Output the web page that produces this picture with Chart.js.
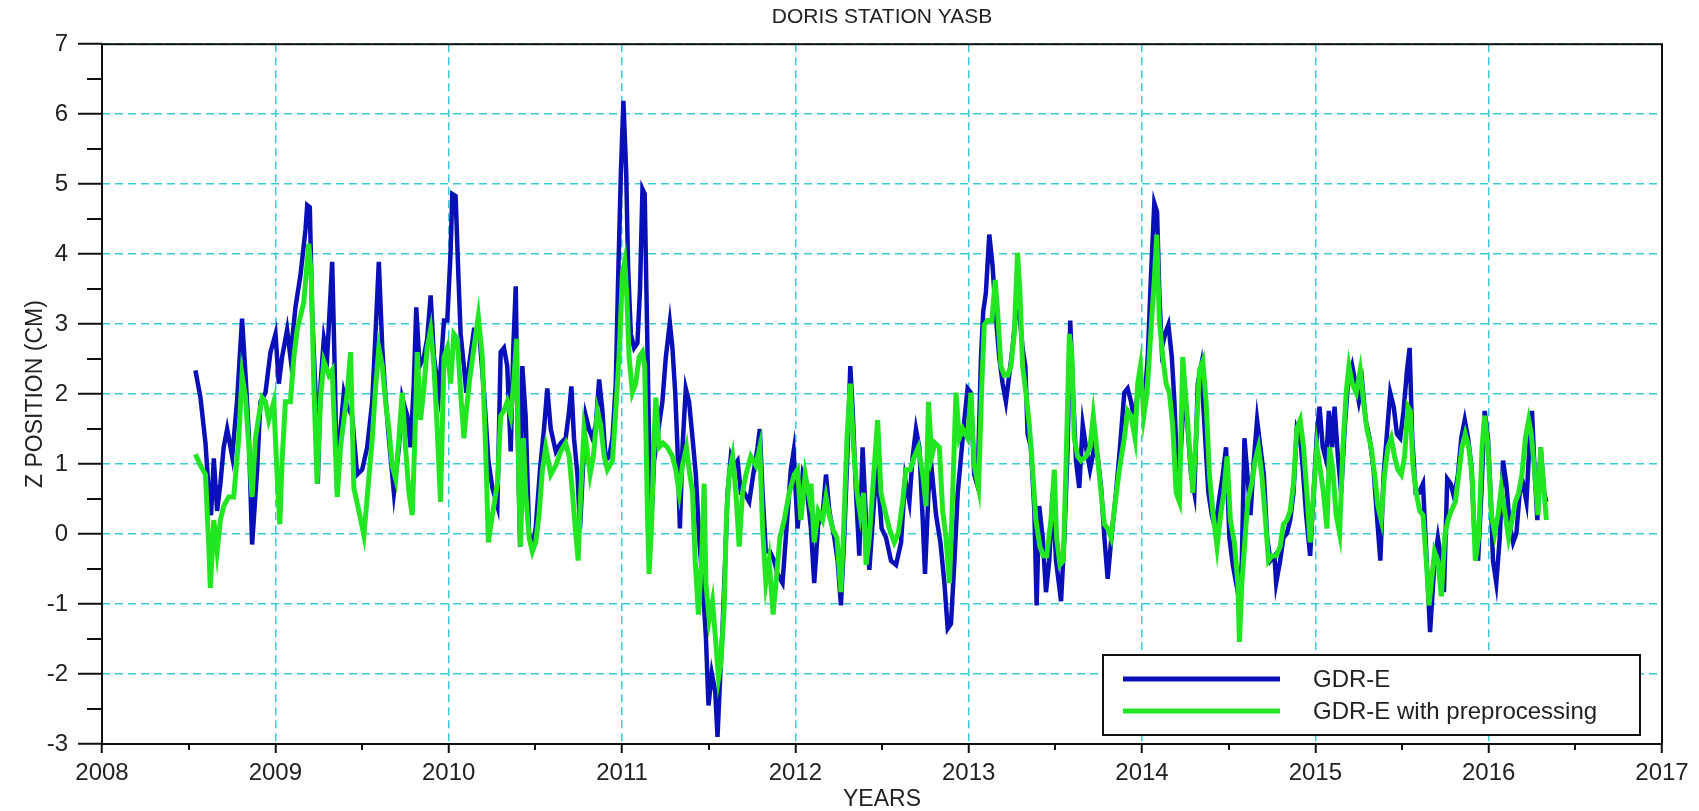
<!DOCTYPE html>
<html>
<head>
<meta charset="utf-8">
<script src="https://cdn.jsdelivr.net/npm/chart.js@4.4.0/dist/chart.umd.min.js"></script>
<style>
html,body{margin:0;padding:0;background:#fff;}
#wrap{position:relative;width:1699px;height:811px;}
</style>
</head>
<body>
<div id="wrap"><canvas id="c"></canvas></div>
<script>
const chartTitle = 'DORIS STATION YASB';
const xAxisTitle = 'YEARS';
const yAxisTitle = 'Z POSITION (CM)';
const seriesNames = ['GDR-E', 'GDR-E with preprocessing'];
const xTicks = [2008, 2009, 2010, 2011, 2012, 2013, 2014, 2015, 2016, 2017];
const yTicks = [-3, -2, -1, 0, 1, 2, 3, 4, 5, 6, 7];

const gdrYears = [
2008.539,2008.568,2008.597,2008.616,2008.629,2008.645,2008.664,2008.683,2008.702,2008.722,2008.751,2008.779,2008.808,2008.828,2008.847,2008.866,2008.895,2008.914,2008.943,2008.972,
2009.001,2009.020,2009.039,2009.068,2009.087,2009.116,2009.145,2009.174,2009.184,2009.199,2009.212,2009.232,2009.245,2009.261,2009.280,2009.299,2009.328,2009.341,2009.357,2009.376,2009.395,
2009.415,2009.443,2009.472,2009.501,2009.530,2009.559,2009.578,2009.597,2009.617,2009.636,2009.655,2009.684,2009.713,2009.732,2009.761,2009.780,2009.799,2009.813,2009.832,2009.857,2009.876,2009.896,2009.915,2009.944,2009.973,2009.992,
2010.011,2010.021,2010.040,2010.056,2010.069,2010.088,2010.102,2010.121,2010.146,2010.175,2010.204,2010.229,2010.252,2010.281,
2010.300,2010.319,2010.338,2010.358,2010.373,2010.387,2010.400,2010.412,2010.425,2010.444,2010.464,2010.483,2010.502,2010.527,2010.550,2010.569,2010.589,2010.618,2010.646,2010.675,2010.695,2010.708,2010.723,2010.743,2010.758,2010.777,2010.791,2010.810,2010.829,2010.849,2010.868,2010.887,2010.906,2010.926,2010.945,2010.964,2010.977,2010.993,
2011.008,2011.024,2011.035,2011.051,2011.070,2011.089,2011.104,2011.118,2011.131,2011.143,2011.156,2011.170,2011.185,
2011.214,2011.233,2011.253,2011.276,2011.291,2011.307,2011.320,2011.334,2011.349,2011.368,2011.387,2011.407,2011.426,2011.445,2011.465,2011.484,2011.499,2011.518,2011.538,2011.551,2011.565,2011.580,2011.595,2011.609,2011.628,2011.647,2011.667,2011.686,2011.705,2011.734,2011.757,2011.782,2011.795,2011.811,2011.830,2011.853,2011.878,2011.897,2011.926,2011.949,2011.974,2011.990,
2012.013,2012.042,2012.065,2012.090,2012.109,2012.132,2012.157,2012.177,2012.196,2012.225,2012.244,2012.263,2012.282,2012.302,2012.317,2012.331,2012.350,2012.369,2012.388,2012.408,2012.427,2012.456,2012.475,2012.498,2012.523,2012.552,2012.581,2012.610,2012.633,2012.658,2012.677,2012.696,2012.715,2012.735,2012.748,2012.768,2012.787,2012.812,2012.837,2012.860,2012.879,2012.898,2012.918,2012.937,2012.956,2012.975,2012.994,
2013.013,2013.032,2013.051,2013.071,2013.084,2013.099,2013.119,2013.138,2013.157,2013.176,2013.196,2013.215,2013.234,2013.253,2013.273,2013.292,2013.311,2013.327,2013.340,2013.359,2013.379,2013.392,2013.407,2013.427,2013.446,2013.465,2013.484,2013.504,2013.533,2013.552,2013.571,2013.586,2013.600,2013.619,2013.638,2013.658,2013.677,2013.700,2013.725,2013.744,2013.764,2013.783,2013.802,2013.821,2013.850,2013.873,2013.898,2013.917,2013.937,2013.956,2013.975,2013.994,
2014.014,2014.033,2014.052,2014.071,2014.087,2014.100,2014.114,2014.133,2014.152,2014.172,2014.187,2014.206,2014.225,2014.245,2014.264,2014.283,2014.302,2014.322,2014.341,2014.360,2014.383,2014.403,2014.422,2014.447,2014.466,2014.485,2014.504,2014.524,2014.543,2014.562,2014.576,2014.591,2014.606,2014.626,2014.645,2014.664,2014.683,2014.703,2014.722,2014.741,2014.764,2014.774,2014.797,2014.816,2014.836,2014.855,2014.874,2014.893,2014.913,2014.928,2014.947,2014.970,2014.990,
2015.009,2015.024,2015.043,2015.063,2015.078,2015.097,2015.111,2015.130,2015.149,2015.169,2015.188,2015.213,2015.232,2015.251,2015.271,2015.290,2015.313,2015.336,2015.355,2015.375,2015.394,2015.413,2015.432,2015.452,2015.471,2015.490,2015.509,2015.529,2015.544,2015.559,2015.579,2015.598,2015.621,2015.636,2015.662,2015.688,2015.707,2015.727,2015.742,2015.761,2015.781,2015.800,2015.823,2015.842,2015.862,2015.881,2015.900,2015.919,2015.939,2015.958,2015.977,2015.996,
2016.012,2016.025,2016.044,2016.064,2016.083,2016.102,2016.121,2016.141,2016.160,2016.179,2016.198,2016.218,2016.237,2016.250,2016.266,2016.281,2016.300,2016.320,2016.333
];
const gdrValues = [
2.34,1.95,1.30,0.59,0.27,1.08,0.33,0.72,1.24,1.50,1.11,1.89,3.08,2.27,1.43,-0.15,0.92,1.89,2.02,2.60,
2.86,2.15,2.53,2.92,2.53,3.24,3.70,4.35,4.70,4.67,3.18,2.02,0.72,2.15,2.79,2.53,3.89,2.53,0.59,1.50,2.02,
1.82,1.69,0.85,0.92,1.24,1.89,2.86,3.89,2.66,1.95,1.37,0.59,1.24,1.95,1.69,1.24,2.15,3.24,2.40,2.53,2.79,3.41,2.53,2.02,3.05,3.05,
4.02,4.86,4.83,3.70,2.86,2.40,2.02,2.47,2.92,2.92,2.02,1.05,0.66,0.40,
2.60,2.66,2.40,1.18,2.66,3.54,1.24,-0.18,2.40,1.69,0.01,-0.18,0.08,0.92,1.50,2.08,1.50,1.18,1.30,1.37,1.76,2.11,1.37,0.85,0.08,1.05,1.69,1.50,1.37,1.56,2.21,1.76,1.05,1.11,1.37,2.15,3.57,5.12,
6.19,5.19,3.83,2.86,2.66,2.73,3.50,4.93,4.86,3.18,1.37,0.20,1.05,
1.56,1.89,2.53,3.02,2.66,2.02,1.24,0.08,1.24,2.08,1.89,1.37,0.85,-0.05,-0.70,-1.47,-2.45,-1.99,-2.25,-2.90,-2.12,-1.35,-0.38,0.59,1.11,0.98,1.05,0.59,0.59,0.46,0.85,1.24,1.50,0.59,-0.25,-0.25,-0.38,-0.57,-0.70,0.08,0.92,1.18,
0.08,0.85,0.66,0.08,-0.70,0.14,0.27,0.85,0.33,-0.05,-0.38,-1.02,-0.05,1.24,2.40,1.76,0.59,-0.31,1.24,0.20,-0.51,0.53,0.85,0.08,-0.05,-0.38,-0.44,-0.12,0.79,0.46,1.11,1.50,1.24,0.20,-0.57,0.59,0.92,0.27,-0.12,-0.70,-1.35,-1.28,-0.38,0.59,1.11,1.63,2.08,
2.02,0.85,0.69,2.53,3.18,3.44,4.28,3.83,3.11,2.53,2.15,1.89,2.27,2.66,3.18,3.18,2.66,2.40,1.43,1.24,0.33,-1.02,0.40,-0.05,-0.83,-0.38,0.59,-0.38,-0.96,-0.05,1.24,3.05,2.15,1.05,0.66,1.56,1.24,0.92,1.24,1.11,0.66,-0.05,-0.64,-0.12,0.59,1.24,2.02,2.08,1.89,1.63,2.02,2.21,
1.89,2.53,3.70,4.73,4.60,3.44,2.66,2.86,2.99,2.53,1.89,0.72,1.24,2.15,1.50,0.85,0.59,2.15,2.40,1.56,0.59,0.27,0.08,0.53,0.85,1.24,-0.05,-0.44,-0.70,-0.96,-0.38,1.37,0.92,0.27,1.05,1.63,1.24,0.85,-0.05,-0.38,-0.31,-0.70,-0.38,-0.05,0.01,0.20,0.59,1.50,1.37,0.92,0.27,-0.31,0.59,
1.43,1.82,1.24,1.05,1.76,1.24,1.82,1.11,0.59,1.50,2.15,2.40,2.15,1.89,2.15,1.63,1.37,0.92,0.27,-0.38,0.85,1.43,2.02,1.82,1.43,1.37,1.76,2.34,2.66,1.37,0.59,0.59,0.72,-0.05,-1.40,-0.38,-0.05,-0.38,-0.83,0.79,0.72,0.53,0.85,1.37,1.63,1.37,0.98,-0.05,-0.38,0.59,1.76,1.37,
0.53,-0.38,-0.70,-0.05,1.05,0.72,0.14,-0.12,0.01,0.59,0.72,0.46,1.37,1.76,0.85,0.20,1.24,0.59,0.46
];

const preYears = [
2008.539,2008.568,2008.597,2008.616,2008.625,2008.645,2008.664,2008.683,2008.702,2008.731,2008.760,2008.789,2008.808,2008.828,2008.847,2008.866,2008.885,2008.905,2008.924,2008.943,2008.962,2008.991,
2009.010,2009.026,2009.039,2009.058,2009.087,2009.107,2009.126,2009.164,2009.193,2009.207,2009.222,2009.241,2009.261,2009.280,2009.309,2009.328,2009.341,2009.357,2009.376,
2009.415,2009.434,2009.453,2009.482,2009.511,2009.530,2009.559,2009.578,2009.597,2009.617,2009.636,2009.655,2009.674,2009.694,2009.713,2009.732,2009.751,2009.771,2009.790,2009.805,2009.819,2009.838,2009.857,2009.876,2009.896,2009.915,2009.934,2009.953,2009.973,2009.992,
2010.011,2010.030,2010.050,2010.069,2010.088,2010.102,2010.121,2010.146,2010.171,2010.194,2010.213,2010.229,2010.252,2010.281,
2010.300,2010.319,2010.338,2010.358,2010.377,2010.392,2010.406,2010.415,2010.431,2010.444,2010.464,2010.483,2010.502,2010.521,2010.541,2010.560,2010.589,2010.618,2010.646,2010.675,2010.695,2010.714,2010.733,2010.747,2010.762,2010.781,2010.797,2010.816,2010.835,2010.858,2010.877,2010.897,2010.916,2010.945,2010.964,2010.983,
2011.002,2011.016,2011.027,2011.041,2011.060,2011.079,2011.099,2011.118,2011.131,2011.147,2011.156,2011.170,2011.185,
2011.195,2011.214,2011.237,2011.262,2011.291,2011.310,2011.330,2011.349,2011.372,2011.387,2011.407,2011.422,2011.441,2011.461,2011.474,2011.484,2011.503,2011.522,2011.541,2011.557,2011.570,2011.590,2011.603,2011.618,2011.638,2011.657,2011.676,2011.695,2011.715,2011.743,2011.772,2011.795,2011.811,2011.830,2011.849,2011.872,2011.888,2011.911,2011.936,2011.965,2011.994,
2012.013,2012.032,2012.057,2012.080,2012.090,2012.109,2012.132,2012.157,2012.177,2012.196,2012.215,2012.240,2012.263,2012.279,2012.298,2012.317,2012.336,2012.356,2012.375,2012.394,2012.408,2012.427,2012.456,2012.475,2012.494,2012.517,2012.542,2012.571,2012.594,2012.619,2012.638,2012.663,2012.687,2012.710,2012.735,2012.754,2012.768,2012.787,2012.806,2012.831,2012.850,2012.869,2012.889,2012.908,2012.927,2012.946,2012.966,2012.994,
2013.013,2013.032,2013.057,2013.076,2013.090,2013.109,2013.134,2013.153,2013.167,2013.186,2013.205,2013.225,2013.244,2013.263,2013.282,2013.296,2013.311,2013.330,2013.350,2013.369,2013.388,2013.411,2013.431,2013.450,2013.475,2013.494,2013.507,2013.527,2013.546,2013.561,2013.581,2013.596,2013.609,2013.629,2013.648,2013.677,2013.700,2013.719,2013.738,2013.764,2013.783,2013.802,2013.821,2013.846,2013.869,2013.898,2013.917,2013.937,2013.960,2013.975,2013.991,
2014.010,2014.029,2014.052,2014.071,2014.085,2014.100,2014.120,2014.139,2014.158,2014.177,2014.197,2014.216,2014.235,2014.254,2014.274,2014.293,2014.312,2014.331,2014.351,2014.370,2014.389,2014.408,2014.433,2014.453,2014.472,2014.491,2014.510,2014.533,2014.553,2014.562,2014.576,2014.595,2014.610,2014.633,2014.653,2014.672,2014.691,2014.710,2014.730,2014.749,
2014.774,2014.797,2014.816,2014.836,2014.855,2014.874,2014.893,2014.913,2014.932,2014.951,2014.970,2014.990,2015.009,2015.028,2015.047,2015.067,2015.082,2015.101,2015.120,2015.140,2015.159,2015.178,2015.194,2015.213,2015.236,2015.259,2015.278,2015.297,2015.322,2015.342,2015.361,2015.380,2015.399,2015.419,2015.438,2015.457,2015.476,2015.496,2015.515,2015.534,2015.548,2015.563,2015.582,2015.602,2015.621,2015.640,2015.656,
2015.669,2015.688,2015.707,2015.727,2015.746,2015.765,2015.784,2015.808,2015.827,2015.846,2015.865,2015.885,2015.904,2015.923,2015.942,2015.962,2015.977,2015.996,2016.016,2016.035,2016.054,2016.073,2016.092,2016.115,2016.135,2016.154,2016.173,2016.192,2016.212,2016.231,2016.246,2016.266,2016.285,2016.300,2016.320,2016.333
];
const preValues = [
1.14,0.98,0.85,-0.18,-0.77,0.20,-0.25,0.20,0.40,0.53,0.53,1.37,2.27,1.95,1.24,0.53,1.37,1.69,1.95,1.89,1.63,1.89,
0.85,0.14,1.05,1.89,1.89,2.53,2.92,3.31,4.15,3.70,2.15,0.72,1.95,2.47,2.27,2.34,1.56,0.53,1.24,
2.02,2.60,0.66,0.33,-0.02,0.53,1.37,2.08,2.66,2.40,1.89,1.50,0.98,0.79,1.37,2.02,1.24,0.59,0.27,1.37,2.60,1.63,2.08,2.66,2.92,2.40,1.50,0.46,2.53,2.66,
2.15,2.86,2.79,2.02,1.37,1.76,2.21,2.66,3.11,2.53,1.24,-0.12,0.27,0.72,
1.69,1.76,1.89,1.69,2.21,2.79,0.59,-0.18,1.37,0.59,-0.05,-0.25,-0.12,0.27,0.92,1.24,0.85,0.98,1.18,1.30,1.11,0.59,0.01,-0.38,0.59,1.50,1.24,0.85,1.11,1.76,1.56,1.11,0.92,1.05,1.76,2.53,
3.70,3.89,3.44,2.53,2.02,2.15,2.53,2.60,2.40,0.27,-0.57,0.08,1.37,
1.95,1.24,1.30,1.24,1.11,0.92,0.59,0.98,1.24,0.92,0.59,-0.38,-1.15,-0.25,0.72,-0.70,-1.22,-0.96,-1.54,-2.06,-1.86,-1.02,0.27,0.85,1.11,0.59,-0.18,0.59,0.85,1.11,0.98,1.24,0.08,-0.70,-0.38,-1.15,-0.70,-0.05,0.20,0.59,0.85,
0.92,0.20,0.85,0.53,0.72,-0.12,0.33,0.20,0.53,0.27,0.08,-0.05,-0.83,0.08,1.37,2.15,1.24,0.59,0.27,0.59,-0.44,-0.05,0.98,1.63,0.59,0.33,0.08,-0.12,0.01,0.46,0.92,0.92,1.11,1.24,0.85,0.40,1.89,1.11,1.30,1.24,0.33,-0.05,-0.70,0.59,2.02,1.37,1.50,1.37,
2.02,0.98,0.66,2.15,2.99,3.05,3.05,3.63,3.18,2.40,2.27,2.27,2.40,2.86,4.02,3.44,2.40,2.02,1.56,0.92,0.20,-0.18,-0.31,-0.31,0.20,0.92,-0.05,-0.44,-0.38,0.92,2.86,2.53,1.37,1.11,1.05,1.11,1.24,1.69,1.24,0.59,0.14,0.08,-0.05,0.46,0.92,1.37,1.76,1.69,1.37,2.15,2.40,
1.69,2.02,2.92,3.63,4.28,3.05,2.53,2.15,2.02,1.56,0.59,0.46,2.53,1.89,1.24,0.59,1.37,2.34,2.47,1.89,0.85,0.33,-0.18,0.27,0.59,1.11,0.20,-0.12,-0.70,-1.54,-0.70,-0.05,0.46,0.72,1.05,1.24,0.85,0.27,-0.38,-0.31,
-0.31,-0.18,0.14,0.20,0.33,0.72,1.50,1.63,1.24,0.59,-0.12,0.59,1.24,0.92,0.59,0.08,1.24,0.92,0.27,0.01,1.24,2.02,2.40,2.15,2.02,2.34,1.89,1.50,1.24,0.85,0.40,0.20,0.85,1.24,1.37,1.11,0.92,0.85,1.11,1.82,1.76,0.98,0.59,0.33,0.27,-0.38,-1.02,
-0.70,-0.25,-0.38,-0.89,-0.05,0.20,0.33,0.46,0.85,1.24,1.43,1.24,0.85,-0.38,-0.05,1.24,1.69,1.24,0.27,0.01,0.27,0.66,0.33,-0.05,0.20,0.46,0.59,0.85,1.37,1.63,1.43,0.85,0.27,1.24,0.59,0.20
];

const FONT = '"Liberation Sans", Arial, Helvetica, sans-serif';
const BLUE = '#0a10b8';
const GREEN = '#22e622';
const GRID = '#3ccad9';

const toPoints = (xs, ys) => xs.map((x, i) => ({x: x, y: ys[i]}));

const framePlugin = {
  id: 'frame',
  beforeDatasetsDraw(chart) {
    const {ctx, chartArea: a, scales} = chart;
    ctx.save();
    ctx.strokeStyle = '#111';
    ctx.lineWidth = 2;
    ctx.strokeRect(a.left, a.top, a.right - a.left, a.bottom - a.top);
    ctx.beginPath();
    for (let i = 0; i < yTicks.length - 1; i++) {
      const py = Math.round(scales.y.getPixelForValue(yTicks[i] + 0.5));
      ctx.moveTo(a.left - 15, py); ctx.lineTo(a.left, py);
    }
    for (let i = 0; i < xTicks.length - 1; i++) {
      const px = Math.round(scales.x.getPixelForValue(xTicks[i] + 0.5));
      ctx.moveTo(px, a.bottom); ctx.lineTo(px, a.bottom + 6);
    }
    ctx.stroke();
    ctx.restore();
  }
};

const boxLegend = {
  id: 'boxLegend',
  afterDraw(chart) {
    const ctx = chart.ctx;
    const L = 1103, T = 655, W = 537, H = 80;
    ctx.save();
    ctx.fillStyle = '#fff';
    ctx.fillRect(L, T, W, H);
    ctx.strokeStyle = '#111';
    ctx.lineWidth = 2;
    ctx.strokeRect(L, T, W, H);
    [0, 1].forEach((di, i) => {
      const ds = chart.data.datasets[di];
      const y = T + 24 + i * 32;
      ctx.strokeStyle = ds.borderColor;
      ctx.lineWidth = 5;
      ctx.beginPath();
      ctx.moveTo(L + 20, y);
      ctx.lineTo(L + 177, y);
      ctx.stroke();
      ctx.fillStyle = '#222';
      ctx.font = '24px ' + FONT;
      ctx.textBaseline = 'middle';
      ctx.textAlign = 'left';
      ctx.fillText(ds.label, L + 210, y + 1);
    });
    ctx.restore();
  }
};

new Chart(document.getElementById('c'), {
  type: 'line',
  data: {
    datasets: [
      {
        label: seriesNames[0],
        data: toPoints(gdrYears, gdrValues),
        borderColor: BLUE,
        backgroundColor: BLUE,
        borderWidth: 4.5,
        pointRadius: 0,
        tension: 0,
        fill: false,
        order: 1
      },
      {
        label: seriesNames[1],
        data: toPoints(preYears, preValues),
        borderColor: GREEN,
        backgroundColor: GREEN,
        borderWidth: 5,
        pointRadius: 0,
        tension: 0,
        fill: false,
        order: 0
      }
    ]
  },
  options: {
    responsive: true,
    maintainAspectRatio: false,
    animation: false,
    layout: {padding: {left: 0, right: 37, top: 0, bottom: 0}},
    plugins: {
      legend: {display: false},
      tooltip: {enabled: false},
      title: {
        display: true,
        text: chartTitle,
        fullSize: false,
        color: '#222',
        font: {family: FONT, size: 21, weight: 'normal', lineHeight: 1.2},
        padding: {top: 5, bottom: 14}
      }
    },
    scales: {
      x: {
        type: 'linear',
        min: xTicks[0],
        max: xTicks[xTicks.length - 1],
        afterBuildTicks: s => { s.ticks = xTicks.map(v => ({value: v})); },
        afterFit: s => { s.height = 67; },
        ticks: {
          color: '#222',
          font: {family: FONT, size: 24},
          padding: 6,
          maxRotation: 0,
          autoSkip: false,
          callback: v => String(v)
        },
        grid: {
          color: GRID,
          lineWidth: 1.5,
          drawTicks: true,
          tickLength: 9,
          tickColor: '#111',
          tickWidth: 2,
          tickBorderDash: []
        },
        border: {display: false, dash: [8, 5]},
        title: {
          display: true,
          text: xAxisTitle,
          color: '#222',
          font: {family: FONT, size: 23, lineHeight: 1},
          padding: {top: 0, bottom: 0}
        }
      },
      y: {
        type: 'linear',
        min: yTicks[0],
        max: yTicks[yTicks.length - 1],
        afterBuildTicks: s => { s.ticks = yTicks.map(v => ({value: v})); },
        afterFit: s => { s.width = 102; },
        ticks: {
          color: '#222',
          font: {family: FONT, size: 24},
          padding: 10,
          callback: v => String(v)
        },
        grid: {
          color: GRID,
          lineWidth: 1.5,
          drawTicks: true,
          tickLength: 24,
          tickColor: '#111',
          tickWidth: 2,
          tickBorderDash: []
        },
        border: {display: false, dash: [8, 5]},
        title: {
          display: true,
          text: yAxisTitle,
          color: '#222',
          font: {family: FONT, size: 23, lineHeight: 1.2},
          padding: {top: 22, bottom: 0}
        }
      }
    }
  },
  plugins: [framePlugin, boxLegend]
});
</script>
</body>
</html>
